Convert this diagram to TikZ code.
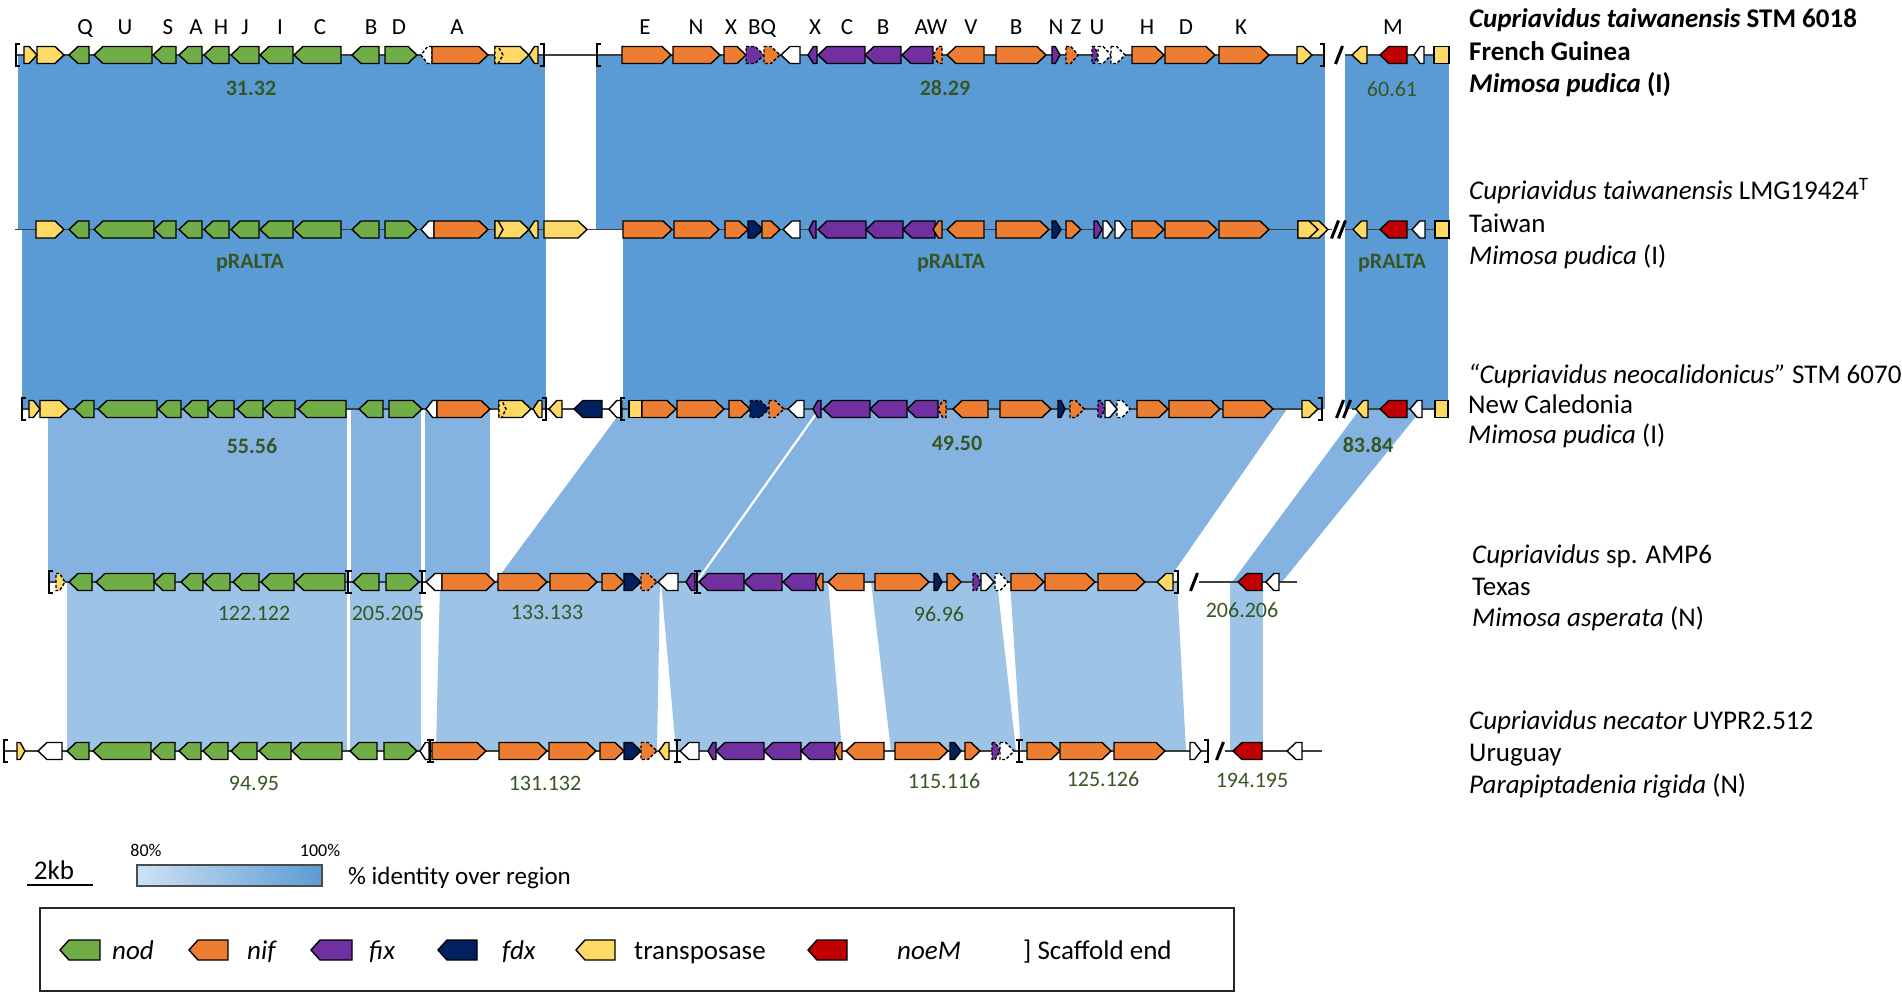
\documentclass[tikz,border=0pt]{standalone}
\usepackage{fontspec}
\setmainfont{Carlito}
\definecolor{gr}{HTML}{70AD47}
\definecolor{or}{HTML}{ED7D31}
\definecolor{pu}{HTML}{7030A0}
\definecolor{nv}{HTML}{002060}
\definecolor{ye}{HTML}{FFD966}
\definecolor{rd}{HTML}{C00000}
\definecolor{wh}{HTML}{FFFFFF}
\definecolor{bA}{HTML}{5B9BD5}
\definecolor{bB}{HTML}{84B3E2}
\definecolor{bC}{HTML}{9DC3E6}
\definecolor{gl}{HTML}{B9D5EE}
\definecolor{lg}{HTML}{375623}
\tikzset{
 gene/.style={draw=black,line width=1.4pt,line join=miter},
 dsh/.style={dash pattern=on 3pt off 2pt},
 rowline/.style={draw=black!75,line width=1.2pt},
 brk/.style={line width=2.4pt,line cap=butt},
 numb/.style={font=\fontsize{22}{24}\selectfont\bfseries,text=lg},
 numr/.style={font=\fontsize{22}{24}\selectfont,text=lg},
 glet/.style={font=\fontsize{23}{25}\selectfont,anchor=base,inner sep=0},
 lab/.style={font=\fontsize{27}{29}\selectfont,anchor=base west,inner sep=0},
 leg/.style={font=\fontsize{27}{29}\selectfont,anchor=base west,inner sep=0},
}
\def\ry{0}
\def\hh{8.5}
\newcommand\gn[5][]{%
  \pgfmathsetmacro\gL{#3-#2}%
  \pgfmathsetmacro\gH{min(9,0.6*\gL)}%
  \ifx R#4
    \draw[gene,fill=#5,#1] (#2,\ry-\hh) -- ({#3-\gH},\ry-\hh) -- (#3,\ry) -- ({#3-\gH},\ry+\hh) -- (#2,\ry+\hh) -- cycle;
  \else
    \draw[gene,fill=#5,#1] (#3,\ry-\hh) -- ({#2+\gH},\ry-\hh) -- (#2,\ry) -- ({#2+\gH},\ry+\hh) -- (#3,\ry+\hh) -- cycle;
  \fi}
\newcommand\gbox[3][]{\draw[gene,fill=ye,#1] (#2,\ry-\hh) rectangle (#3,\ry+\hh);}
\newcommand\lbr[1]{\draw[brk] (#1+4,\ry-11) -- (#1,\ry-11) -- (#1,\ry+11) -- (#1+4,\ry+11);}
\newcommand\rbr[1]{\draw[brk] (#1-4,\ry-11) -- (#1,\ry-11) -- (#1,\ry+11) -- (#1-4,\ry+11);}
\newcommand\ibr[1]{\draw[brk] (#1,\ry-11) -- (#1,\ry+11) (#1-3.5,\ry-11) -- (#1+3.5,\ry-11) (#1-3.5,\ry+11) -- (#1+3.5,\ry+11);}
\newcommand\sls[1]{\draw[line width=3pt] (#1-3.5,\ry+9) -- (#1+3.5,\ry-9);}
\begin{document}
\begin{tikzpicture}[x=1pt,y=-1pt]
\useasboundingbox (0,0) rectangle (1902,995);
% ---------- bands ----------
\fill[bA] (18,55) rectangle (545,229.5);
\fill[bA] (596,55) rectangle (1325,229.5);
\fill[bA] (1345,55) rectangle (1449,229.5);
\fill[bA] (22,229.5) rectangle (546,409);
\fill[bA] (623,229.5) rectangle (1325,409);
\fill[bA] (1345,229.5) rectangle (1448,409);
\fill[bB] (48,409) rectangle (347,582);
\fill[bB] (351,409) rectangle (421,582);
\fill[bB] (425,409) rectangle (490,582);
\fill[bB] (623,409) -- (818,409) -- (695,582) -- (495,582) -- cycle;
\fill[bB] (821,409) -- (1287,409) -- (1167,582) -- (698,582) -- cycle;
\fill[bB] (1360,409) -- (1422,409) -- (1282,582) -- (1232,582) -- cycle;
\fill[bC] (67,582) rectangle (347,751);
\fill[bC] (350,582) rectangle (421,751);
\fill[bC] (440,582) -- (660,582) -- (657,751) -- (436,751) -- cycle;
\fill[bC] (661,582) -- (828,582) -- (842,751) -- (676,751) -- cycle;
\fill[bC] (871,582) -- (997,582) -- (1016,751) -- (891,751) -- cycle;
\fill[bC] (1010,582) -- (1177,582) -- (1186,751) -- (1021,751) -- cycle;
\fill[bC] (1230,582) rectangle (1263,751);
% ---------- row 1 ----------
\def\ry{55}
\draw[rowline] (16,\ry) -- (1324,\ry);
\draw[rowline] (1345,\ry) -- (1449,\ry);
\lbr{16}
\gn{37}{64}{R}{ye}\gn{24}{37}{R}{ye}
\gn{69}{89}{L}{gr}\gn{94}{152}{L}{gr}\gn{153}{176}{L}{gr}\gn{179}{202}{L}{gr}
\gn{204}{229}{L}{gr}\gn{231}{259}{L}{gr}\gn{260}{293}{L}{gr}\gn{294}{341}{L}{gr}
\gn{352}{379}{L}{gr}\gn{385}{417}{R}{gr}
\gn[dsh]{421}{432}{L}{wh}\gn{432}{488}{R}{or}
\gn{495}{529}{R}{ye}\gn[dsh]{495}{503}{R}{ye}\gn{529}{538}{L}{ye}
\rbr{544}\lbr{597}
\gn{622}{671}{R}{or}\gn{673}{720}{R}{or}\gn{724}{746}{R}{or}
\gn[dsh]{746}{764}{R}{pu}\gn[dsh]{764}{780}{R}{or}\gn{781}{800}{L}{wh}
\gn{808}{817}{L}{pu}\gn{818}{865}{L}{pu}\gn{865}{901}{L}{pu}\gn{902}{933}{L}{pu}
\gn[dsh]{933}{942}{L}{or}\gn{947}{984}{L}{or}\gn{996}{1046}{R}{or}
\gn{1052}{1060}{R}{pu}\gn[dsh]{1066}{1078}{R}{or}
\gn[dsh]{1092}{1098}{R}{pu}\gn[dsh]{1098}{1111}{R}{wh}\gn[dsh]{1111}{1125}{R}{wh}
\gn{1132}{1164}{R}{or}\gn{1165}{1215}{R}{or}\gn{1219}{1269}{R}{or}
\gn{1297}{1312}{R}{ye}\rbr{1324}\sls{1339}
\gn{1352}{1367}{L}{ye}\gn{1380}{1407}{L}{rd}\gn{1414}{1424}{L}{wh}\gbox{1434}{1449}
% ---------- row 2 ----------
\def\ry{229.5}
\draw[rowline] (15,\ry) -- (1332,\ry);
\draw[rowline] (1345,\ry) -- (1449,\ry);
\gn{36}{64}{R}{ye}
\gn{69}{89}{L}{gr}\gn{94}{154}{L}{gr}\gn{154}{176}{L}{gr}\gn{179}{202}{L}{gr}
\gn{204}{229}{L}{gr}\gn{231}{259}{L}{gr}\gn{260}{293}{L}{gr}\gn{294}{341}{L}{gr}
\gn{352}{379}{L}{gr}\gn{385}{417}{R}{gr}
\gn{421}{434}{L}{wh}\gn{434}{488}{R}{or}
\gn{495}{529}{R}{ye}\gn{495}{503}{R}{ye}\gn{529}{538}{L}{ye}\gn{544}{587}{R}{ye}
\gn{623}{672}{R}{or}\gn{674}{719}{R}{or}\gn{725}{748}{R}{or}
\gn{748}{763}{R}{nv}\gn{762}{780}{R}{or}\gn{783}{800}{L}{wh}
\gn{809}{816}{L}{pu}\gn{818}{866}{L}{pu}\gn{866}{903}{L}{pu}\gn{903}{935}{L}{pu}
\gn{933}{942}{L}{or}\gn{947}{984}{L}{or}\gn{996}{1049}{R}{or}
\gn{1052}{1061}{R}{nv}\gn{1066}{1081}{R}{or}
\gn{1094}{1102}{R}{pu}\gn{1103}{1113}{R}{wh}\gn{1115}{1126}{R}{wh}
\gn{1132}{1164}{R}{or}\gn{1165}{1217}{R}{or}\gn{1219}{1269}{R}{or}
\gn{1298}{1328}{R}{ye}\gn{1298}{1318}{R}{ye}
\sls{1335}\sls{1342}
\gn{1353}{1367}{L}{ye}\gn{1380}{1407}{L}{rd}\gn{1412}{1425}{L}{wh}\gbox{1435}{1449}
% ---------- row 3 ----------
\def\ry{409}
\draw[rowline] (22,\ry) -- (1322,\ry);
\draw[rowline] (1352,\ry) -- (1449,\ry);
\lbr{22}
\gn{40}{69}{R}{ye}\gn{29}{40}{R}{ye}
\gn{74}{94}{L}{gr}\gn{98}{157}{L}{gr}\gn{158}{181}{L}{gr}\gn{183}{208}{L}{gr}
\gn{208}{234}{L}{gr}\gn{237}{263}{L}{gr}\gn{264}{295}{L}{gr}\gn{298}{346}{L}{gr}
\gn{359}{383}{L}{gr}\gn{389}{422}{R}{gr}
\gn{426}{437}{L}{wh}\gn{437}{490}{R}{or}
\gn{499}{531}{R}{ye}\gn[dsh]{499}{506}{R}{ye}\gn{533}{542}{L}{ye}
\rbr{546}\gn{549}{562}{L}{ye}
\gn{574}{602}{L}{nv}\gn{609}{622}{L}{wh}\lbr{621}
\gbox{629}{642}
\gn{642}{676}{R}{or}\gn{677}{724}{R}{or}\gn{729}{750}{R}{or}
\gn[dsh]{750}{769}{R}{nv}\gn[dsh]{769}{784}{R}{or}\gn{788}{804}{L}{wh}
\gn{813}{821}{L}{pu}\gn{823}{870}{L}{pu}\gn{870}{907}{L}{pu}\gn{907}{938}{L}{pu}
\gn[dsh]{938}{946}{L}{or}\gn{953}{988}{L}{or}\gn{1000}{1051}{R}{or}
\gn{1058}{1065}{R}{nv}\gn[dsh]{1070}{1084}{R}{or}
\gn[dsh]{1098}{1105}{R}{pu}\gn{1105}{1117}{R}{wh}\gn[dsh]{1117}{1130}{R}{wh}
\gn{1137}{1168}{R}{or}\gn{1169}{1220}{R}{or}\gn{1223}{1273}{R}{or}
\gn{1302}{1318}{R}{ye}\rbr{1322}
\sls{1340}\sls{1347}
\gn{1356}{1368}{L}{ye}\gn{1380}{1407}{L}{rd}\gn{1410}{1422}{L}{wh}\gbox{1435}{1448}
% ---------- row 4 ----------
\def\ry{582}
\draw[rowline] (49,\ry) -- (1178,\ry);
\draw[rowline] (1199,\ry) -- (1297,\ry);
\lbr{49}
\gn[dsh]{56}{65}{R}{ye}
\gn{69}{92}{L}{gr}\gn{96}{154}{L}{gr}\gn{154}{175}{L}{gr}\gn{181}{203}{L}{gr}
\gn{204}{230}{L}{gr}\gn{233}{259}{L}{gr}\gn{261}{294}{L}{gr}\gn{295}{345}{L}{gr}
\ibr{348}
\gn{353}{379}{L}{gr}\gn{386}{419}{R}{gr}
\ibr{422}
\gn{426}{442}{L}{wh}\gn{442}{495}{R}{or}\gn{498}{547}{R}{or}\gn{550}{597}{R}{or}
\gn{602}{624}{R}{or}\gn{624}{641}{R}{nv}\gn[dsh]{641}{657}{R}{or}\gn{658}{678}{L}{wh}
\gn{686}{695}{L}{pu}\ibr{697}
\gn{699}{744}{L}{pu}\gn{744}{782}{L}{pu}\gn{783}{816}{L}{pu}
\gn{816}{823}{L}{or}\gn{828}{864}{L}{or}\gn{875}{929}{R}{or}
\gn{934}{942}{R}{nv}\gn{947}{961}{R}{or}
\gn[dsh]{973}{981}{R}{pu}\gn{981}{994}{R}{wh}\gn[dsh]{995}{1008}{R}{wh}
\gn{1011}{1044}{R}{or}\gn{1045}{1095}{R}{or}\gn{1098}{1145}{R}{or}
\gn{1157}{1173}{L}{ye}\rbr{1178}\sls{1194}
\gn{1238}{1262}{L}{rd}\gn{1266}{1279}{L}{wh}
% ---------- row 5 ----------
\def\ry{751}
\draw[rowline] (4,\ry) -- (1208,\ry);
\draw[rowline] (1225,\ry) -- (1322,\ry);
\lbr{4}
\gn{17}{25}{R}{ye}\gn{38}{62}{L}{wh}
\gn{67}{89}{L}{gr}\gn{93}{151}{L}{gr}\gn{152}{175}{L}{gr}\gn{179}{201}{L}{gr}
\gn{203}{228}{L}{gr}\gn{231}{257}{L}{gr}\gn{259}{291}{L}{gr}\gn{292}{342}{L}{gr}
\gn{350}{377}{L}{gr}\gn{384}{417}{R}{gr}
\gn{420}{429}{L}{wh}\ibr{430}
\gn{432}{486}{R}{or}\gn{499}{547}{R}{or}\gn{549}{596}{R}{or}
\gn{600}{624}{R}{or}\gn{624}{641}{R}{nv}\gn[dsh]{641}{657}{R}{or}
\gn{659}{669}{L}{ye}\ibr{677}\gn{680}{699}{L}{wh}
\gn{708}{716}{L}{pu}\gn{716}{764}{L}{pu}\gn{764}{801}{L}{pu}\gn{801}{835}{L}{pu}
\gn{835}{842}{L}{or}\gn{846}{884}{L}{or}\gn{895}{948}{R}{or}
\gn{950}{961}{R}{nv}\gn{965}{980}{R}{or}
\gn[dsh]{992}{1000}{R}{pu}\gn[dsh]{1000}{1014}{R}{wh}\ibr{1019}
\gn{1027}{1060}{R}{or}\gn{1060}{1111}{R}{or}\gn{1114}{1165}{R}{or}
\gn{1190}{1201}{R}{wh}\rbr{1208}\sls{1220}
\gn{1233}{1262}{L}{rd}\gn{1287}{1302}{L}{wh}
% ---------- gene letters ----------
\foreach \x/\t [count=\i] in {85/Q,125/U,168/S,196/A,221/H,245/J,280/I,320/C,371/B,399/D,457/A,
  645/E,696/N,731/X,762/BQ,815/X,847/C,883/B,931/AW,971/V,1016/B,1056/N,1076/Z,1097/U,
  1147/H,1186/D,1241/K,1393/M}
  \node[glet] (gl\i) at (\x,35) {\t};
% ---------- region labels ----------
\node[numb] (r1) at (251,88) {31.32};
\node[numb] (r2) at (945,88) {28.29};
\node[numr] (r3) at (1392,89) {60.61};
\node[numb] (r4) at (250,263) {pRALTA};
\node[numb] (r5) at (951,263) {pRALTA};
\node[numb] (r6) at (1392,263) {pRALTA};
\node[numb] (r7) at (252,446) {55.56};
\node[numb] (r8) at (957,443) {49.50};
\node[numb] (r9) at (1368,445) {83.84};
\node[numr] (r10) at (254,613) {122.122};
\node[numr] (r11) at (388,613) {205.205};
\node[numr] (r12) at (547,612) {133.133};
\node[numr] (r13) at (939,614) {96.96};
\node[numr] (r14) at (1242,610) {206.206};
\node[numr] (r15) at (254,783) {94.95};
\node[numr] (r16) at (545,783) {131.132};
\node[numr] (r17) at (944,781) {115.116};
\node[numr] (r18) at (1103,779) {125.126};
\node[numr] (r19) at (1252,780) {194.195};
% ---------- strain labels ----------
\node[lab] (s1a) at (1469,28) {\bfseries\itshape Cupriavidus taiwanensis\upshape\ STM 6018};
\node[lab] (s1b) at (1469,61) {\bfseries French Guinea};
\node[lab] (s1c) at (1469,93) {\bfseries\itshape Mimosa pudica\upshape\ (I)};
\node[lab] (s2a) at (1469,200) {\itshape Cupriavidus taiwanensis\upshape\ LMG19424\textsuperscript{T}};
\node[lab] (s2b) at (1469,232) {Taiwan};
\node[lab] (s2c) at (1469,264) {\itshape Mimosa pudica\upshape\ (I)};
\node[lab] (s3a) at (1468,383) {\itshape “Cupriavidus neocalidonicus”\upshape\ STM 6070};
\node[lab] (s3b) at (1468,413) {New Caledonia};
\node[lab] (s3c) at (1468,443) {\itshape Mimosa pudica\upshape\ (I)};
\node[lab] (s4a) at (1472,563) {\itshape Cupriavidus\upshape\ sp. AMP6};
\node[lab] (s4b) at (1472,595) {Texas};
\node[lab] (s4c) at (1472,626) {\itshape Mimosa asperata\upshape\ (N)};
\node[lab] (s5a) at (1469,729) {\itshape Cupriavidus necator\upshape\ UYPR2.512};
\node[lab] (s5b) at (1469,761) {Uruguay};
\node[lab] (s5c) at (1469,793) {\itshape Parapiptadenia rigida\upshape\ (N)};
% ---------- scale and gradient ----------
\draw[line width=2.2pt] (27,885) -- (93,885);
\node[font=\fontsize{27}{29}\selectfont] (kb) at (54,870) {2kb};
\shade[left color=gl!70!white,right color=bA] (137,865) rectangle (322,886);
\draw[line width=1.5pt,draw=black!70] (137,865) rectangle (322,886);
\node[font=\fontsize{18}{20}\selectfont] (p80) at (146,850) {80\%};
\node[font=\fontsize{18}{20}\selectfont] (p100) at (320,850) {100\%};
\node[leg,font=\fontsize{25}{27}\selectfont] (idr) at (348,884) {\% identity over region};
% ---------- legend ----------
\draw[line width=2pt,draw=black!85] (40,908) rectangle (1234,991);
\def\ry{950}
\def\hh{10}
\gn{60}{100}{L}{gr}\gn{189}{228}{L}{or}\gn{311}{352}{L}{pu}\gn{438}{477}{L}{nv}
\gn{576}{615}{L}{ye}\gn{808}{847}{L}{rd}
\node[leg] (t1) at (112,959) {\itshape nod};
\node[leg] (t2) at (247,959) {\itshape nif};
\node[leg] (t3) at (369,959) {\itshape fix};
\node[leg] (t4) at (502,959) {\itshape fdx};
\node[leg] (t5) at (634,959) {transposase};
\node[leg] (t6) at (897,959) {\itshape noeM};
\node[leg] (t7) at (1023,959) {] Scaffold end};
\end{tikzpicture}
\end{document}
